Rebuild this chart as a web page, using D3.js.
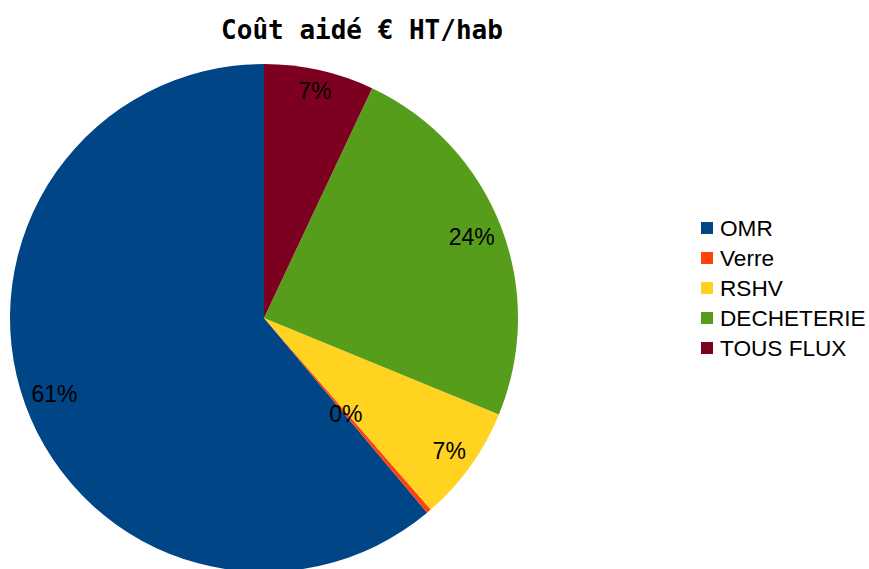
<!DOCTYPE html>
<html>
<head>
<meta charset="utf-8">
<script src="https://cdn.jsdelivr.net/npm/d3@7"></script>
<style>
  body { margin: 0; background: #fff; }
  svg { display: block; }
</style>
</head>
<body>
<script>
// données du graphique
var categories = ["OMR", "Verre", "RSHV", "DECHETERIE", "TOUS FLUX"];
var valeurs = [61.1, 0.3, 7.4, 24.2, 7.0];
var couleurs = ["#004586", "#ff420e", "#ffd320", "#579d1c", "#7e0021"];
var titre = "Coût aidé € HT/hab";

var width = 869, height = 569;
var cx = 264, cy = 318, r = 254;

var svg = d3.select("body").append("svg")
  .attr("width", width)
  .attr("height", height);

// titre
svg.append("text")
  .attr("x", 362)
  .attr("y", 39)
  .attr("text-anchor", "middle")
  .style("font-family", "'DejaVu Sans Mono', monospace")
  .style("font-weight", "bold")
  .style("font-size", "26px")
  .text(titre);

var total = d3.sum(valeurs);
var data = categories.map(function(c, i) { return { nom: c, val: valeurs[i], col: couleurs[i] }; });

// sens anti-horaire à partir de midi
var pie = d3.pie()
  .sort(null)
  .value(function(d) { return d.val; })
  .startAngle(0)
  .endAngle(-2 * Math.PI);

var arc = d3.arc().innerRadius(0).outerRadius(r);
var arcPetit = d3.arc().innerRadius(126).outerRadius(126);

var g = svg.append("g").attr("transform", "translate(" + cx + "," + cy + ")");
var arcs = pie(data);

g.selectAll("path")
  .data(arcs)
  .enter().append("path")
  .attr("d", arc)
  .style("fill", function(d) { return d.data.col; });

// étiquettes : la boîte du texte est collée au bord, à l'intérieur
g.selectAll("text.lab")
  .data(arcs)
  .enter().append("text")
  .attr("class", "lab")
  .attr("text-anchor", "middle")
  .attr("dy", "0.35em")
  .style("font-family", "'Liberation Sans', Arial, sans-serif")
  .style("font-size", "23px")
  .style("fill", "#000")
  .text(function(d) { return Math.round(d.data.val / total * 100) + "%"; })
  .attr("transform", function(d) {
    if (d.data.val / total < 0.01) return "translate(" + arcPetit.centroid(d) + ")";
    var b = this.getBBox();
    var a = (d.startAngle + d.endAngle) / 2;
    var s = Math.sin(a), c = Math.cos(a);
    var rr = r - 5 - (b.width / 2 * Math.abs(s) + b.height / 2 * Math.abs(c));
    return "translate(" + (rr * s) + "," + (-rr * c) + ")";
  });

// légende
var leg = svg.append("g").attr("transform", "translate(701,228)");
var items = leg.selectAll("g")
  .data(data)
  .enter().append("g")
  .attr("transform", function(d, i) { return "translate(0," + (i * 30) + ")"; });

items.append("rect")
  .attr("x", 0).attr("y", -6)
  .attr("width", 12).attr("height", 12)
  .style("fill", function(d) { return d.col; });

items.append("text")
  .attr("x", 19)
  .attr("dy", "0.35em")
  .style("font-family", "'Liberation Sans', Arial, sans-serif")
  .style("font-size", "22.6px")
  .text(function(d) { return d.nom; });
</script>
</body>
</html>
